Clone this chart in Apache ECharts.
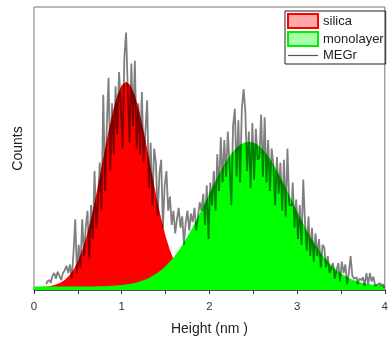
<!DOCTYPE html>
<html>
<head>
<meta charset="utf-8">
<script src="https://cdn.jsdelivr.net/npm/echarts@6/dist/echarts.min.js"></script>
<style>html,body{margin:0;padding:0;background:#fff;}#chart{width:391px;height:347px;}</style>
</head>
<body>
<div id="chart"></div>
<script>
// Tick labels of the x axis
const xTicks = [0, 1, 2, 3, 4];

// Gaussian fit curves, sampled every 0.05 nm from 0 to 4
const fitStart = 0, fitStep = 0.05;
const silicaFit = [
  1.04,1.08,1.15,1.28,1.51,1.90,2.53,3.52,5.00,7.15,
  10.12,14.07,19.11,25.23,32.34,40.16,48.29,56.18,63.22,68.79,
  72.37,73.60,72.37,68.79,63.22,56.18,48.29,40.16,32.34,25.23,
  19.11,14.07,10.12,7.15,5.00,3.52,2.53,1.90,1.51,1.28,
  1.15,1.08,1.04,1.02,1.01,1.00,1.00,1.00,1.00,1.00,
  1.00,1.00,1.00,1.00,1.00,1.00,1.00,1.00,1.00,1.00,
  1.00,1.00,1.00,1.00,1.00,1.00,1.00,1.00,1.00,1.00,
  1.00,1.00,1.00,1.00,1.00,1.00,1.00,1.00,1.00,1.00,1.00
];
const monolayerFit = [
  1.20,1.20,1.20,1.20,1.20,1.20,1.20,1.20,1.21,1.21,
  1.21,1.22,1.23,1.25,1.27,1.30,1.34,1.40,1.48,1.59,
  1.73,1.93,2.18,2.51,2.92,3.45,4.10,4.91,5.88,7.05,
  8.42,10.03,11.88,13.97,16.30,18.88,21.67,24.64,27.76,30.96,
  34.19,37.38,40.45,43.32,45.91,48.15,49.96,51.30,52.12,52.40,
  52.12,51.30,49.96,48.15,45.91,43.32,40.45,37.38,34.19,30.96,
  27.76,24.64,21.67,18.88,16.30,13.97,11.88,10.03,8.42,7.05,
  5.88,4.91,4.10,3.45,2.92,2.51,2.18,1.93,1.73,1.59,1.48
];

// MEGr height histogram, bins every 0.02 nm starting at 0.14 nm
const megrStart = 0.14, megrStep = 0.02;
const megrCounts = [
  2,3,3.5,2.5,5,6,4,6.5,5,3.5,
  6,7,8.5,6,9,4,13,25,6,16,
  8,25,12,22,28,11,30,18,42,22,
  31,45,28,69,35,58,75,42,66,48,
  72,55,77,65,50,82,91,70,52,80,
  58,81,50,66,48,70,45,56,67,36,
  52,30,50,45,26,41,46,22,37,42,
  28,33,23,28,20,25,29,22,26,16,
  24,28,21,27,24,29,21,26,31,28,
  34,23,37,18,38,30,42,28,48,35,
  54,38,53,40,56,44,30,58,64,40,
  60,38,64,71,63,42,56,36,59,39,
  57,46,47,62,40,61,38,53,35,50,
  44,30,47,34,45,28,46,26,50,30,
  30,38,22,32,18,30,16,39,24,14,
  26,12,22,10,20,12,18,8,16,15,
  8,12,6,8,9.5,4,7,9.5,3,10,
  6,9,2,6,12,5,4,4.5,2,4,
  3.5,4.5,1.5,6,2,6,3,4.7,1.5,2,
  2.5,1.5,2,1
];

const seriesNames = ['silica', 'monolayer', 'MEGr'];

function toPairs(start, step, vals) {
  return vals.map((v, i) => [+(start + i * step).toFixed(3), v]);
}

const FONT = 'Liberation Sans, Arial, sans-serif';
const chart = echarts.init(document.getElementById('chart'), null, {renderer: 'canvas'});
chart.setOption({
  animation: false,
  backgroundColor: '#ffffff',
  grid: {left: 34, right: 3, top: 7, bottom: 57, show: true, borderColor: '#777', borderWidth: 1, backgroundColor: 'transparent'},
  legend: {
    orient: 'vertical',
    left: 285, top: 11,
    padding: [2, 2, 2, 2],
    itemWidth: 30, itemHeight: 14, itemGap: 2,
    borderColor: '#222', borderWidth: 1,
    textStyle: {fontFamily: FONT, fontSize: 13, color: '#222'},
    data: [
      {name: seriesNames[0], icon: 'rect', itemStyle: {color: '#ffa8a8', borderColor: '#ff0000', borderWidth: 2}},
      {name: seriesNames[1], icon: 'rect', itemStyle: {color: '#a8ffa8', borderColor: '#00ee00', borderWidth: 2}},
      {name: seriesNames[2], icon: 'path://M0,0L30,0L30,1.2L0,1.2Z', itemStyle: {color: '#555', borderWidth: 0}}
    ]
  },
  xAxis: {
    type: 'value', min: xTicks[0], max: xTicks[xTicks.length - 1], interval: 1,
    name: 'Height (nm )', nameLocation: 'middle', nameGap: 32,
    nameTextStyle: {fontFamily: FONT, fontSize: 14, color: '#222'},
    axisLine: {show: true, onZero: false, lineStyle: {color: '#333', width: 1.5}},
    axisTick: {show: true, length: 4, lineStyle: {color: '#333'}},
    minorTick: {show: true, splitNumber: 2, length: 4, lineStyle: {color: '#333'}},
    axisLabel: {fontFamily: FONT, fontSize: 11.5, color: '#333', margin: 11},
    splitLine: {show: false}
  },
  yAxis: {
    type: 'value', min: 0, max: 100,
    name: 'Counts', nameLocation: 'middle', nameGap: 9,
    nameTextStyle: {fontFamily: FONT, fontSize: 14, color: '#222'},
    axisLine: {show: false}, axisTick: {show: false}, axisLabel: {show: false},
    splitLine: {show: false}
  },
  series: [
    {
      name: seriesNames[0], type: 'line', symbol: 'none', z: 2,
      data: toPairs(fitStart, fitStep, silicaFit),
      lineStyle: {width: 0, color: '#ff0000'}, itemStyle: {color: '#ff0000'},
      areaStyle: {color: '#ff0000', opacity: 1}
    },
    {
      name: seriesNames[1], type: 'line', symbol: 'none', z: 3,
      data: toPairs(fitStart, fitStep, monolayerFit),
      lineStyle: {width: 0, color: '#00ff00'}, itemStyle: {color: '#00ff00'},
      areaStyle: {color: '#00ff00', opacity: 1}
    },
    {
      name: seriesNames[2], type: 'line', symbol: 'none', z: 4, step: 'middle',
      data: toPairs(megrStart, megrStep, megrCounts),
      lineStyle: {width: 1.8, color: 'rgba(0,0,0,0.5)'}, itemStyle: {color: '#808080'}
    }
  ]
});
</script>
</body>
</html>
